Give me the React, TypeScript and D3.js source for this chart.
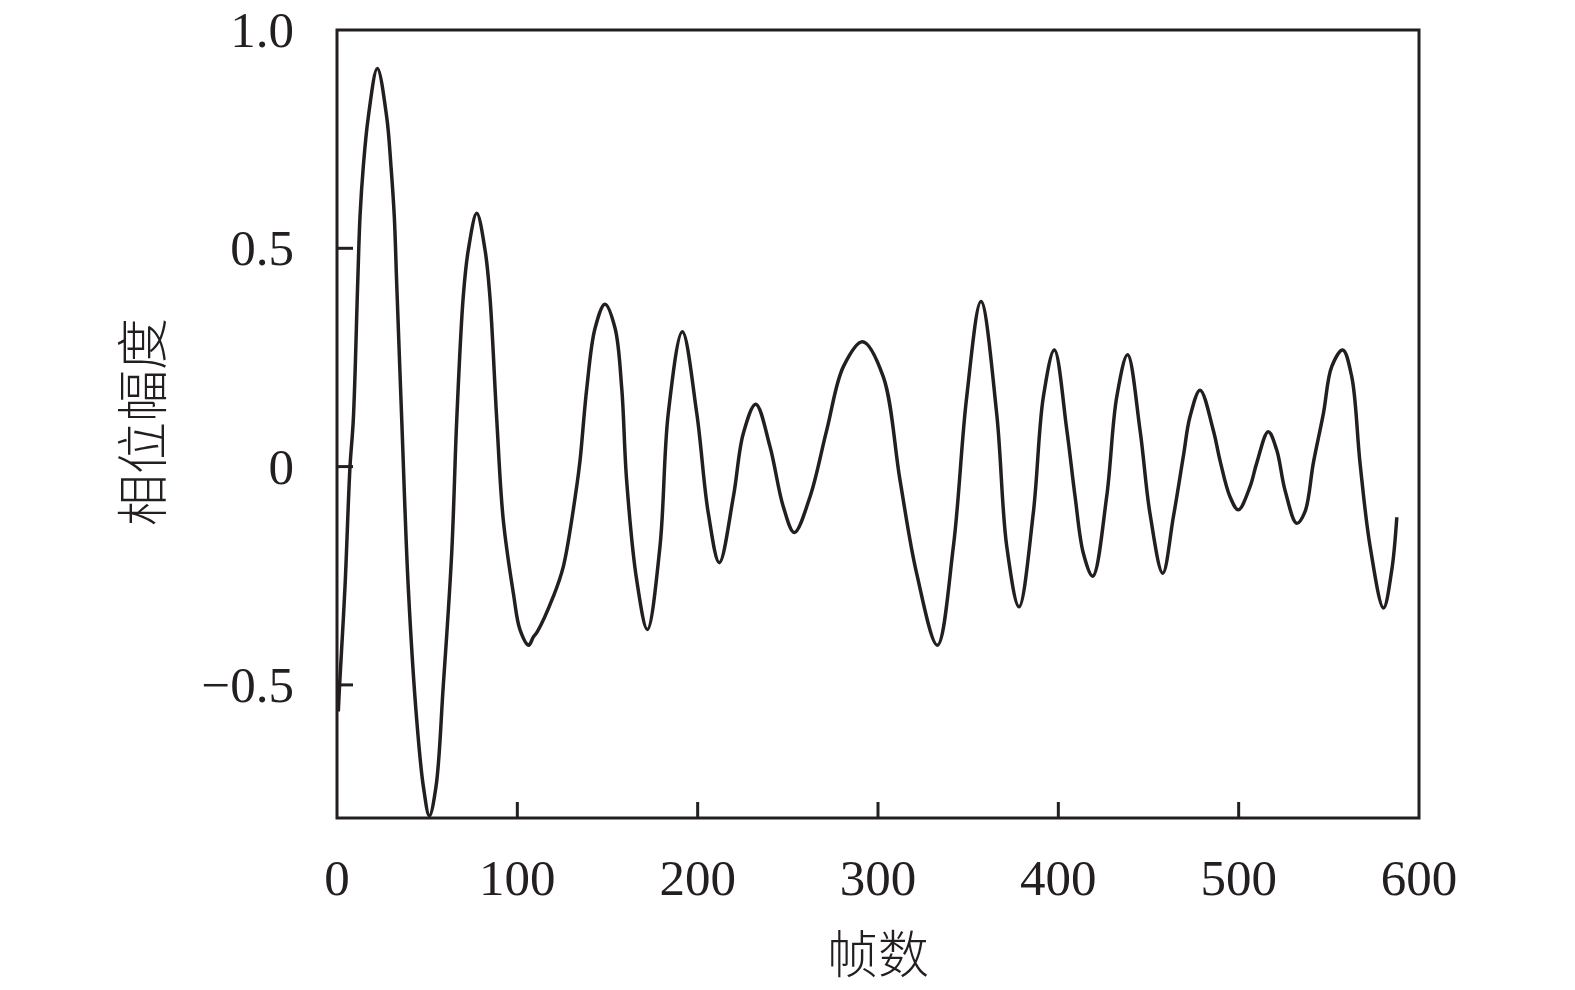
import React from "react";
import * as d3 from "d3";

const frames: number[] = [
  0.72, 1.39, 4.44, 7.21, 9.04, 11.48, 12.75, 14.58, 17.36, 22.35, 27.56, 29.95, 31.78, 33.1, 35.9,
  39.5, 44.2, 47.9, 51.2, 54.9,
  58.9, 63.6, 66.4, 70.0, 72.8, 77.5, 82.1, 84.8, 88.6, 92.2, 97.8, 101.5, 106.3, 108.9, 111.1,
  119.9, 125.5, 132.9, 134.8, 138.5, 143.1, 148.6, 154.2, 157.9, 160.6, 166.2, 172.1, 179.1, 183.7,
  191.5, 199.5, 205.9, 212.0, 219.8, 225.3, 232.2, 240.1, 247.5, 253.6, 262.3, 271.6, 280.8, 291.5,
  302.9, 312.2, 321.4, 332.9, 341.8, 349.2, 357.1, 365.8, 371.4, 378.2, 386.1, 391.7, 397.8, 404.7,
  409.3, 413.9, 419.1, 426.8, 432.4, 438.4, 445.3, 450.8, 457.9, 463.8, 469.3, 473.0, 478.6, 485.9,
  489.6, 495.2, 499.8, 506.3, 510.0, 516.4, 521.1, 525.7, 532.2, 536.8, 541.4, 547.0, 551.6, 557.7,
  562.7, 567.3, 572.9, 580.3, 584.9, 587.7,
];

const amplitude: number[] = [
  -0.561, -0.504, -0.275, 0.0, 0.107, 0.42, 0.572, 0.687, 0.801, 0.912, 0.801, 0.687, 0.572, 0.42, 0.107,
  -0.275, -0.58, -0.733, -0.8, -0.733,
  -0.504, -0.199, 0.107, 0.389, 0.496, 0.58, 0.496, 0.389, 0.107, -0.122, -0.29, -0.374, -0.409, -0.39, -0.378,
  -0.298, -0.229, -0.046, 0.015, 0.179, 0.317, 0.372, 0.317, 0.179, -0.031, -0.26, -0.373, -0.183, 0.122,
  0.309, 0.122, -0.107, -0.22, -0.069, 0.076, 0.143, 0.046, -0.092, -0.151, -0.069, 0.084, 0.229, 0.286,
  0.206, -0.031, -0.244, -0.409, -0.183, 0.16, 0.378, 0.122, -0.183, -0.321, -0.107, 0.16, 0.267, 0.084,
  -0.069, -0.199, -0.251, -0.069, 0.16, 0.256, 0.084, -0.107, -0.244, -0.115, 0.023, 0.114, 0.175, 0.084,
  0.015, -0.069, -0.099, -0.046, 0.008, 0.08, 0.038, -0.054, -0.13, -0.103, 0.008, 0.122, 0.229, 0.267,
  0.206, 0.008, -0.183, -0.324, -0.237, -0.116,
];

const xTicks: number[] = [0, 100, 200, 300, 400, 500, 600];
const yTicks: number[] = [1.0, 0.5, 0, -0.5];
const yTickLabels: string[] = ["1.0", "0.5", "0", "\u22120.5"];
const xTitle = "帧数";
const yTitle = "相位幅度";

const W = 1575;
const H = 990;
const left = 337;
const right = 1419;
const top = 30;
const bottom = 818;
const ink = "#231f20";

export default function App() {
  const x = d3.scaleLinear().domain([0, 600]).range([left, right]);
  const y = d3.scaleLinear().domain([1.0, 0]).range([top, 466.6]);
  const pts: [number, number][] = frames.map((f, i) => [f, amplitude[i]]);
  const line = d3
    .line<[number, number]>()
    .x((d) => x(d[0]))
    .y((d) => y(d[1]))
    .curve(d3.curveCatmullRom.alpha(0.5));
  const serif = "'Liberation Serif', 'Times New Roman', serif";
  const cjk = "'Noto Sans CJK SC', sans-serif";
  return (
    <svg
      width={W}
      height={H}
      style={{ position: "absolute", left: 0, top: 0, display: "block", background: "#fff" }}
    >
      <path d={line(pts) || ""} fill="none" stroke={ink} strokeWidth={3.5} strokeLinejoin="round" />
      <rect
        x={left}
        y={top}
        width={right - left}
        height={bottom - top}
        fill="none"
        stroke={ink}
        strokeWidth={3}
      />
      {xTicks.map((t) => (
        <g key={"xt" + t}>
          {t > 0 && t < 600 && (
            <line x1={x(t)} x2={x(t)} y1={bottom} y2={bottom - 16} stroke={ink} strokeWidth={3} />
          )}
          <text
            x={x(t)}
            y={895}
            textAnchor="middle"
            fontFamily={serif}
            fontSize={51}
            fill={ink}
          >
            {t}
          </text>
        </g>
      ))}
      {yTicks.map((t, i) => (
        <g key={"yt" + t}>
          {t < 1 && (
            <line x1={left} x2={left + 16} y1={y(t)} y2={y(t)} stroke={ink} strokeWidth={3} />
          )}
          <text
            x={294}
            y={y(t) + 17}
            textAnchor="end"
            fontFamily={serif}
            fontSize={51}
            fill={ink}
          >
            {yTickLabels[i]}
          </text>
        </g>
      ))}
      <text
        x={(left + right) / 2}
        y={973}
        textAnchor="middle"
        fontFamily={cjk}
        fontSize={51}
        fontWeight={300}
        fill={ink}
      >
        {xTitle}
      </text>
      <text
        transform={`translate(162, ${422}) rotate(-90)`}
        textAnchor="middle"
        fontFamily={cjk}
        fontSize={52}
        fontWeight={300}
        fill={ink}
      >
        {yTitle}
      </text>
    </svg>
  );
}
